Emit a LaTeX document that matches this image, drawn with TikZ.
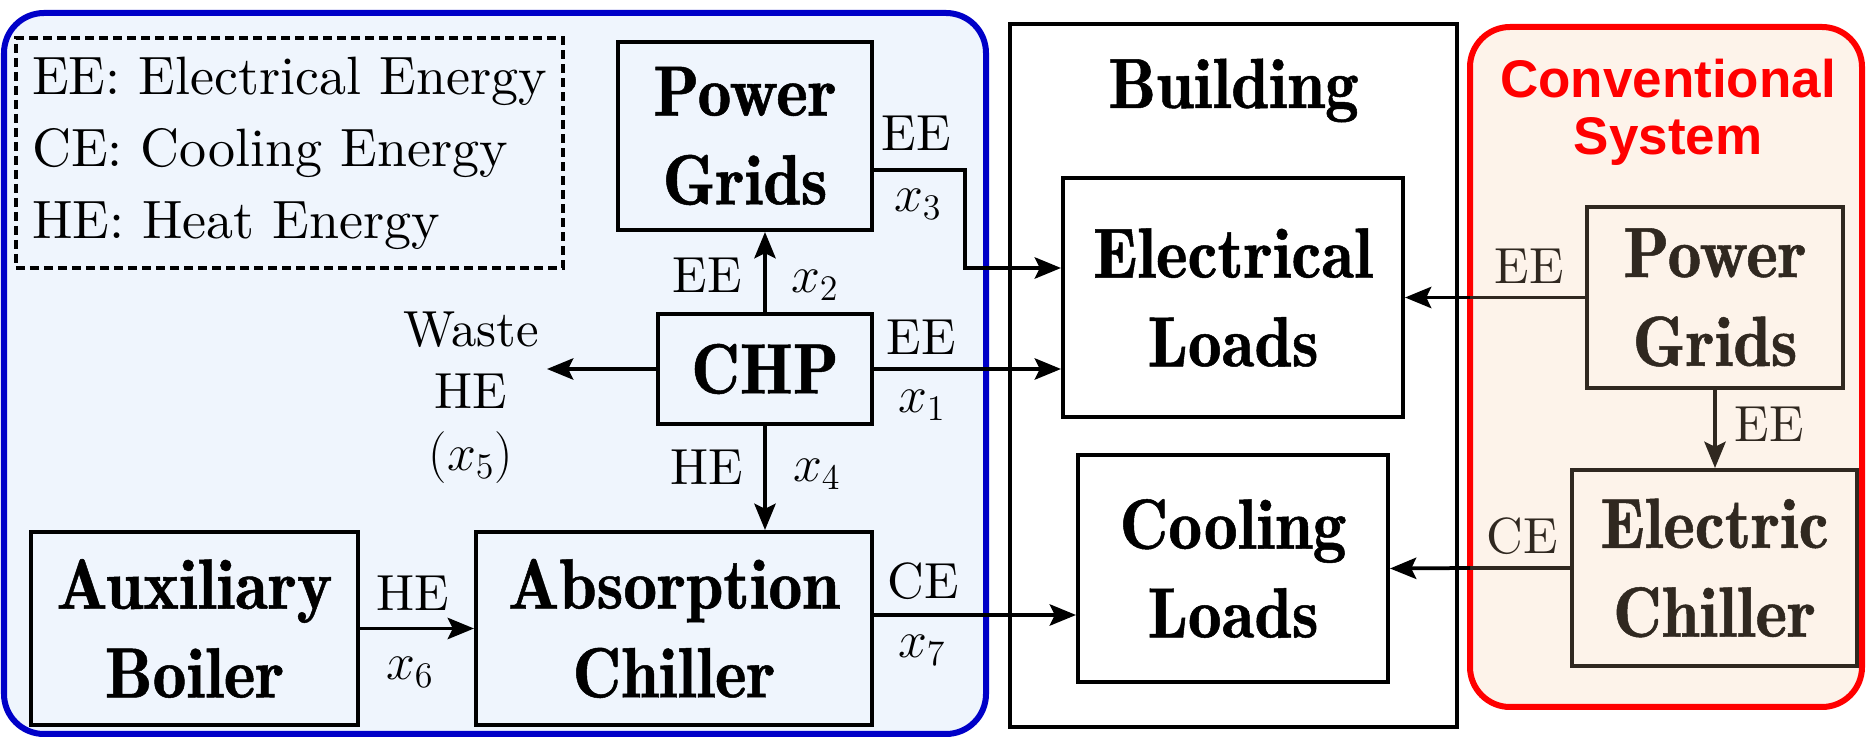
\documentclass[tikz,border=0pt]{standalone}
\usepackage{fontspec}
\usetikzlibrary{arrows.meta,calc}
\newfontfamily\lmten{lmroman10-regular.otf}
\newfontfamily\lmdemi{lmromandemi10-regular.otf}[FakeStretch=0.95,FakeBold=0.7]
\newfontfamily\arialf{Liberation Sans}
\definecolor{bluebd}{RGB}{0,0,200}
\definecolor{bluefill}{RGB}{239,245,253}
\definecolor{redbd}{RGB}{255,0,0}
\definecolor{redfill}{RGB}{253,243,234}
\definecolor{brn}{RGB}{48,40,32}
\newcommand{\bxfont}{\lmdemi\fontsize{28.4}{35.5}\selectfont}
\newcommand{\lbfont}{\lmten\fontsize{20.3}{24}\selectfont}
\begin{document}
\begin{tikzpicture}[x=0.4pt,y=-0.4pt,
  box/.style={draw, line width=1.6pt, inner sep=0pt, align=center, font=\bxfont},
  rbox/.style={box, draw=brn, text=brn},
  lbl/.style={inner sep=0pt, font=\lbfont},
  rlbl/.style={lbl, text=brn},
  arr/.style={line width=1.5pt, -{Stealth[length=10.5pt,width=8.5pt,inset=2pt]}},
]
\useasboundingbox (0,0) rectangle (1866,737);
% group frames
\draw[bluebd, fill=bluefill, line width=2.4pt, rounded corners=16pt] (4,13) rectangle (986,734);
\draw[redbd, fill=redfill, line width=2.4pt, rounded corners=16pt] (1470,27) rectangle (1862,707);
% legend
\node[draw, line width=1.3pt, dash pattern=on 3.6pt off 2pt, minimum width=218.8pt, minimum height=92pt,
      align=left, inner sep=0pt, font=\lmten\fontsize{21.6}{28.8}\selectfont] (legend) at (289.5,153)
      {EE: Electrical Energy\\CE: Cooling Energy\\HE: Heat Energy};
% left system
\node[box, minimum width=101.6pt, minimum height=75.2pt] (pgL) at (745,136) {Power\\Grids};
\node[box, minimum width=85.6pt, minimum height=44pt] (chp) at (765,369) {CHP};
\node[box, minimum width=158.4pt, minimum height=77.2pt] (ac) at (674,628.5) {Absorption\\Chiller};
\node[box, minimum width=130.8pt, minimum height=77.2pt] (boiler) at (194.5,628.5) {Auxiliary\\Boiler};
% building
\node[box, minimum width=178.8pt, minimum height=281.2pt] (bldg) at (1233.5,375.5) {};
\node[font=\bxfont, anchor=base, inner sep=0pt] (bldgt) at (1233.5,108) {Building};
\node[box, minimum width=136pt, minimum height=95.6pt] (el) at (1233,297.5) {Electrical\\Loads};
\node[box, minimum width=124pt, minimum height=90.8pt] (cl) at (1233,568.5) {Cooling\\Loads};
% conventional system
\node[font=\arialf\bfseries\fontsize{21.2}{22.8}\selectfont, text=redbd, align=center, inner sep=0pt] (conv) at (1668,112) {Conventional\\System};
\node[rbox, minimum width=102.4pt, minimum height=72.4pt] (pgR) at (1715,297.5) {Power\\Grids};
\node[rbox, minimum width=114pt, minimum height=78.4pt] (ec) at (1714.5,568) {Electric\\Chiller};
% connectors
\coordinate (pgout) at ($(pgL.east)+(0,34)$);
\coordinate (x3bend) at (965,268);
\coordinate (acout) at ($(ac.east)+(0,-13.5)$);
\coordinate (wastetip) at (547,369);
\coordinate (redL) at (1470,0);
\draw[arr] (chp.north) -- (chp.north |- pgL.south);
\draw[arr] (chp.east) -- (chp.east -| el.west);
\draw[arr] (pgout) -| (x3bend) -- (x3bend -| el.west);
\draw[arr] (chp.south) -- (chp.south |- ac.north);
\draw[arr] (chp.west) -- (wastetip);
\draw[arr] (boiler.east) -- (ac.west);
\draw[arr] (acout) -- (acout -| cl.west);
\draw[brn, line width=1.5pt] (pgR.west) -- (pgR.west -| redL);
\draw[arr] (pgR.west -| redL) -- (el.east);
\draw[brn, line width=1.5pt] (ec.west) -- (ec.west -| redL);
\draw[arr] (ec.west -| redL) -- (cl.east);
\draw[arr, brn] (pgR.south) -- (pgR.south |- ec.north);
% labels
\node[lbl] (l1a) at (921,337) {EE};
\node[lbl] (l1b) at (922,405) {$x_1$};
\node[lbl] (l2a) at (707,275) {EE};
\node[lbl] (l2b) at (815,285) {$x_2$};
\node[lbl] (l3a) at (916,133) {EE};
\node[lbl] (l3b) at (918,204) {$x_3$};
\node[lbl] (l4a) at (707,467) {HE};
\node[lbl] (l4b) at (817,474) {$x_4$};
\node[lbl, align=center, font=\lmten\fontsize{20.3}{24.8}\selectfont] (l5) at (471,398) {Waste\\HE\\$(x_5)$};
\node[lbl] (l6a) at (413,593) {HE};
\node[lbl] (l6b) at (410,672) {$x_6$};
\node[lbl] (l7a) at (923,581) {CE};
\node[lbl] (l7b) at (922,650) {$x_7$};
\node[rlbl] (r1) at (1529,266) {EE};
\node[rlbl] (r2) at (1769,424) {EE};
\node[rlbl] (r3) at (1522,536) {CE};
\end{tikzpicture}
\end{document}
